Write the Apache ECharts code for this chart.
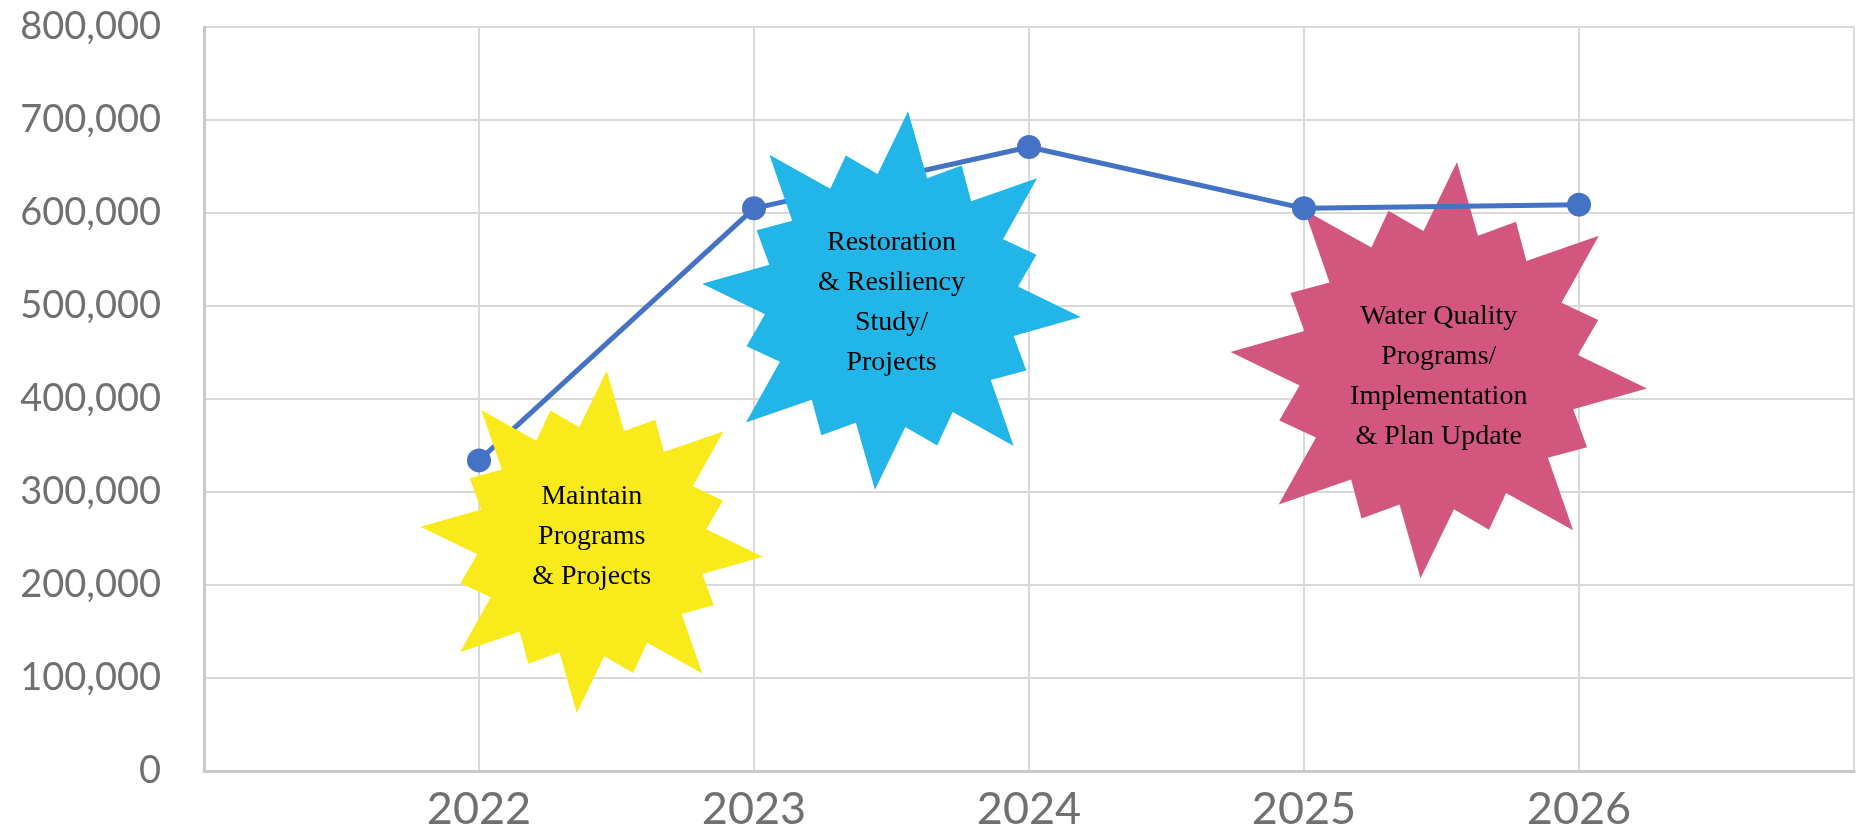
<!DOCTYPE html>
<html>
<head>
<meta charset="utf-8">
<title>Budget by year</title>
<script src="https://cdn.jsdelivr.net/npm/echarts@6/dist/echarts.min.js"></script>
<style>
  html, body { margin: 0; padding: 0; background: #fff; }
  #myChart { width: 1863px; height: 832px; }
</style>
</head>
<body>
<div id="myChart"></div>
<script>
  // values
  const years = [2022, 2023, 2024, 2025, 2026]
  const budget = [334000, 605000, 671000, 605000, 609000]
  const yMin = 0
  const yMax = 800000
  const yStep = 100000

  // starburst call-outs, placed in data coordinates
  const starLabels = [
    'Maintain\nPrograms\n& Projects',
    'Restoration\n& Resiliency\nStudy/\nProjects',
    'Water Quality\nPrograms/\nImplementation\n& Plan Update'
  ]
  const starX = [2022.41, 2023.5, 2025.49]
  const starY = [246500, 506000, 431000]

  // looks of the stars (radius in px, text offset in px, layer)
  const starLook = [
    {color: '#f9ea1c', radius: 172, dy: -5, z: 3},
    {color: '#21b6e7', radius: 190, dy: 2, z: 3},
    {color: '#d3567f', radius: 209, dy: 6, z: 1}
  ]

  const lineColor = '#4472c4'
  const gridColor = '#d9d9d9'
  const labelColor = '#707070'

  function starPoints (cx, cy, r) {
    // 16 point star: long spike, notch, short spike, notch
    const pts = []
    for (let i = 0; i < 32; i++) {
      const a = (-85 + i * 11.25) * Math.PI / 180
      const k = i % 4 === 0 ? 1 : (i % 4 === 2 ? 0.8 : 0.67)
      pts.push([cx + r * k * Math.cos(a), cy + r * k * Math.sin(a)])
    }
    return pts
  }

  function starSeries (i) {
    const look = starLook[i]
    return {
      type: 'custom',
      z: look.z,
      silent: true,
      data: [[starX[i], starY[i]]],
      renderItem: function (params, api) {
        const c = api.coord([api.value(0), api.value(1)])
        return {
          type: 'group',
          children: [
            {
              type: 'polygon',
              shape: {points: starPoints(c[0], c[1], look.radius)},
              style: {fill: look.color}
            },
            {
              type: 'text',
              x: c[0],
              y: c[1] + look.dy,
              style: {
                text: starLabels[i],
                fill: '#000',
                font: '28px "Liberation Serif"',
                lineHeight: 40,
                align: 'center',
                verticalAlign: 'middle',
                textAlign: 'center',
                textVerticalAlign: 'middle'
              }
            }
          ]
        }
      }
    }
  }

  const myChart = echarts.init(document.getElementById('myChart'))
  myChart.setOption({
    animation: false,
    backgroundColor: '#fff',
    grid: {
      left: 204,
      right: 9,
      top: 27,
      bottom: 59
    },
    xAxis: {
      type: 'value',
      min: 2021,
      max: 2027,
      interval: 1,
      axisLine: {show: true, onZero: false, lineStyle: {color: '#c9c9c9', width: 3}},
      axisTick: {show: false},
      splitLine: {show: true, lineStyle: {color: gridColor, width: 2}},
      axisLabel: {
        color: labelColor,
        fontFamily: 'Lato',
        fontSize: 45,
        margin: 16,
        showMinLabel: true,
        showMaxLabel: true,
        formatter: function (v) {
          return years.indexOf(v) >= 0 ? String(v) : ''
        }
      }
    },
    yAxis: {
      type: 'value',
      min: yMin,
      max: yMax,
      interval: yStep,
      axisLine: {show: true, lineStyle: {color: '#c9c9c9', width: 3}},
      axisTick: {show: false},
      splitLine: {show: true, lineStyle: {color: gridColor, width: 2}},
      axisLabel: {
        color: labelColor,
        fontFamily: 'Lato',
        fontSize: 38,
        margin: 43,
        formatter: function (v) {
          return v.toLocaleString('en-US')
        }
      }
    },
    series: [
      {
        type: 'line',
        z: 2,
        data: years.map((y, i) => [y, budget[i]]),
        symbol: 'circle',
        symbolSize: 24,
        itemStyle: {color: lineColor},
        lineStyle: {color: lineColor, width: 5}
      },
      starSeries(0),
      starSeries(1),
      starSeries(2)
    ]
  })
</script>
</body>
</html>
